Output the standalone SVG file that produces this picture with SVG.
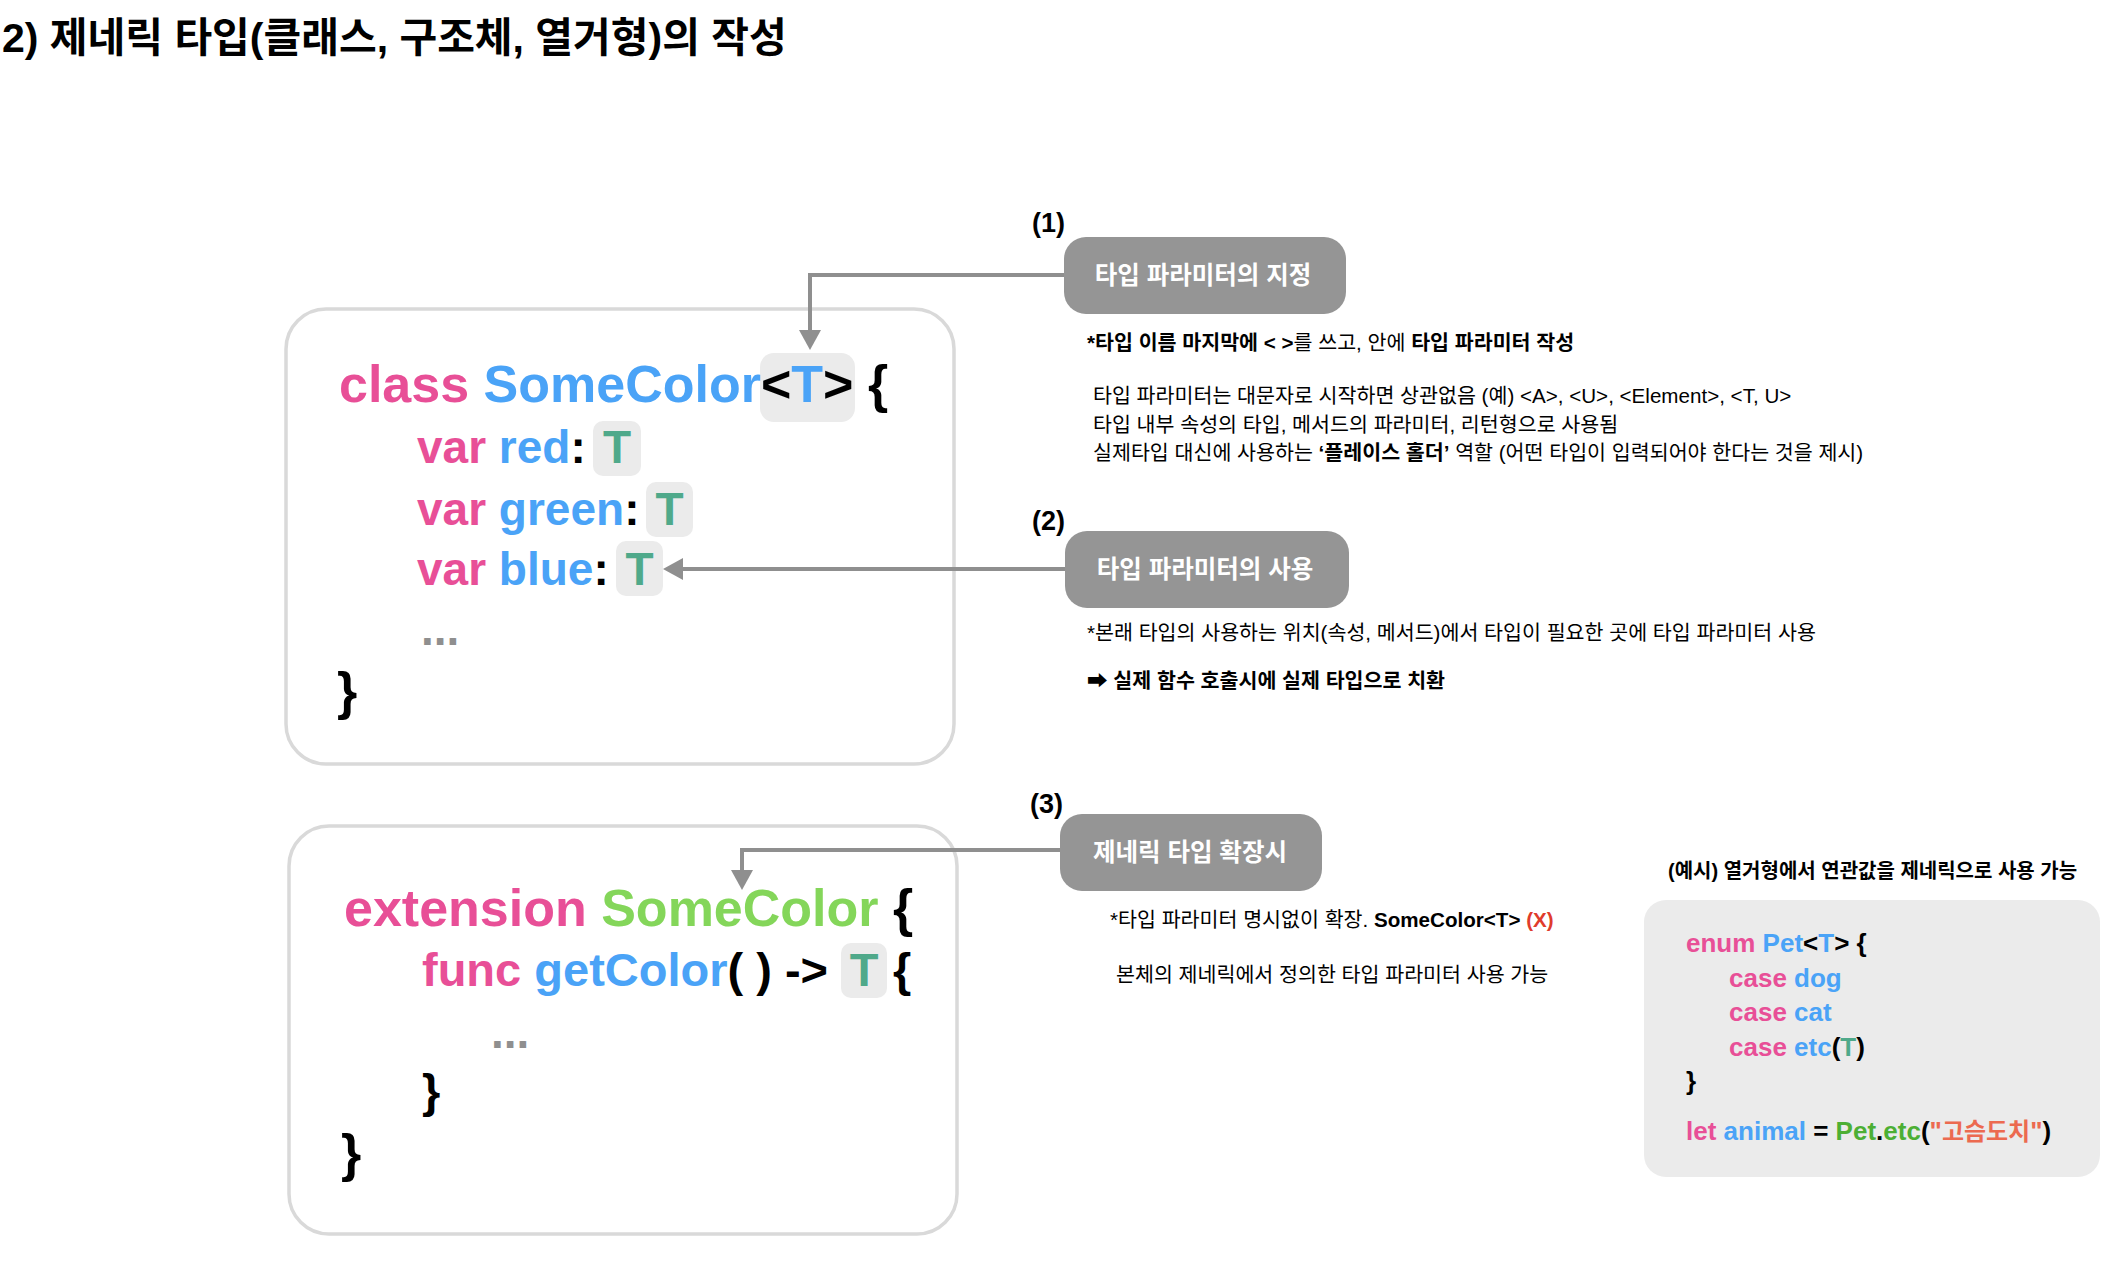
<svg xmlns="http://www.w3.org/2000/svg" width="2118" height="1272" viewBox="0 0 2118 1272">
<style>
text{font-family:"Liberation Sans","Noto Sans CJK KR","DejaVu Sans",sans-serif;}
.title{font-size:41px;font-weight:bold;fill:#000;}
.code{font-weight:bold;fill:#000;}
.pk{fill:#e84f97;}
.bl{fill:#4aa3f7;}
.tg{fill:#4fa98a;}
.gr{fill:#84d65a;}
.gd{fill:#4caf34;}
.st{fill:#ec6a50;}
.dots{fill:#8f8f8f;}
.box{fill:#fff;stroke:#d9d9d9;stroke-width:3.5;}
.hl{fill:#ebebeb;}
.lbl{fill:#959595;}
.lt{font-size:24.5px;font-weight:bold;fill:#fff;text-anchor:middle;}
.num{font-size:27px;font-weight:bold;fill:#000;}
.d{font-size:20.6px;fill:#000;}
.b{font-weight:bold;}
.red{fill:#e03c2c;font-weight:bold;}
.conn{fill:none;stroke:#8f8f8f;stroke-width:4;marker-end:url(#ah);}
</style>
<defs>
<marker id="ah" viewBox="0 0 20 22" refX="16" refY="11" markerWidth="20" markerHeight="22" markerUnits="userSpaceOnUse" orient="auto">
<path d="M0,0 L20,11 L0,22 z" fill="#8f8f8f"/>
</marker>
</defs>
<rect width="2118" height="1272" fill="#fff"/>
<text id="title" class="title" x="2" y="52">2) 제네릭 타입(클래스, 구조체, 열거형)의 작성</text>

<g id="class-box">
<rect class="box" x="286" y="309" width="668" height="455" rx="40"/>
<rect class="hl" x="760" y="353" width="95" height="69" rx="14"/>
<text class="code" x="339" y="402" font-size="52"><tspan class="pk">class</tspan> <tspan class="bl">SomeColor</tspan>&lt;<tspan class="bl">T</tspan>&gt; {</text>
<rect class="hl" x="593" y="421" width="48" height="55" rx="10"/>
<text class="code" x="417" y="463" font-size="46"><tspan class="pk">var</tspan> <tspan class="bl">red</tspan>:</text>
<text class="code tg" x="617" y="463" font-size="46" text-anchor="middle">T</text>
<rect class="hl" x="646" y="482" width="47" height="55" rx="10"/>
<text class="code" x="417" y="525" font-size="46"><tspan class="pk">var</tspan> <tspan class="bl">green</tspan>:</text>
<text class="code tg" x="669.5" y="525" font-size="46" text-anchor="middle">T</text>
<rect class="hl" x="616" y="541" width="47" height="55" rx="10"/>
<text class="code" x="417" y="585" font-size="46"><tspan class="pk">var</tspan> <tspan class="bl">blue</tspan>:</text>
<text class="code tg" x="639.5" y="585" font-size="46" text-anchor="middle">T</text>
<text class="code dots" x="421" y="645" font-size="46">...</text>
<text class="code" x="337" y="709" font-size="52">}</text>
</g>

<g id="extension-box">
<rect class="box" x="289" y="826" width="668" height="408" rx="40"/>
<text class="code" x="344" y="926" font-size="52"><tspan class="pk">extension</tspan> <tspan class="gr">SomeColor</tspan> {</text>
<rect class="hl" x="841" y="943" width="46" height="55" rx="10"/>
<text class="code" x="422" y="986" font-size="47"><tspan class="pk">func</tspan> <tspan class="bl">getColor</tspan>( ) -&gt;</text>
<text class="code tg" x="864" y="986" font-size="47" text-anchor="middle">T</text>
<text class="code" x="893" y="986" font-size="47">{</text>
<text class="code dots" x="491" y="1048" font-size="46">...</text>
<text class="code" x="422" y="1107" font-size="47">}</text>
<text class="code" x="341" y="1171" font-size="52">}</text>
</g>

<g id="label-1">
<text class="num" x="1032" y="232">(1)</text>
<rect class="lbl" x="1064" y="237" width="282" height="77" rx="22"/>
<text class="lt" x="1203" y="284">타입 파라미터의 지정</text>
</g>
<g id="desc-1">
<text class="d" x="1087" y="350"><tspan class="b">*타입 이름 마지막에 &lt; &gt;</tspan>를 쓰고, 안에 <tspan class="b">타입 파라미터 작성</tspan></text>
<text class="d" x="1093" y="403">타입 파라미터는 대문자로 시작하면 상관없음 (예) &lt;A&gt;, &lt;U&gt;, &lt;Element&gt;, &lt;T, U&gt;</text>
<text class="d" x="1093" y="432">타입 내부 속성의 타입, 메서드의 파라미터, 리턴형으로 사용됨</text>
<text class="d" x="1093" y="460">실제타입 대신에 사용하는 <tspan class="b">‘플레이스 홀더’</tspan> 역할 (어떤 타입이 입력되어야 한다는 것을 제시)</text>
</g>

<g id="label-2">
<text class="num" x="1032" y="530">(2)</text>
<rect class="lbl" x="1065" y="531" width="284" height="77" rx="22"/>
<text class="lt" x="1205" y="578">타입 파라미터의 사용</text>
</g>
<g id="desc-2">
<text class="d" x="1087" y="640">*본래 타입의 사용하는 위치(속성, 메서드)에서 타입이 필요한 곳에 타입 파라미터 사용</text>
<text class="d b" x="1087" y="688">➡ 실제 함수 호출시에 실제 타입으로 치환</text>
</g>

<g id="label-3">
<text class="num" x="1030" y="813">(3)</text>
<rect class="lbl" x="1060" y="814" width="262" height="77" rx="22"/>
<text class="lt" x="1190" y="861">제네릭 타입 확장시</text>
</g>
<g id="desc-3">
<text class="d" x="1110" y="927">*타입 파라미터 명시없이 확장. <tspan class="b">SomeColor&lt;T&gt;</tspan> <tspan class="red">(X)</tspan></text>
<text class="d" x="1116" y="982">본체의 제네릭에서 정의한 타입 파라미터 사용 가능</text>
</g>

<g id="enum-example">
<text class="b" x="1668" y="878" font-size="20">(예시) 열거형에서 연관값을 제네릭으로 사용 가능</text>
<rect class="hl" x="1644" y="900" width="456" height="277" rx="22"/>
<text class="code" x="1686" y="952" font-size="26"><tspan class="pk">enum</tspan> <tspan class="bl">Pet</tspan>&lt;<tspan class="bl">T</tspan>&gt; {</text>
<text class="code" x="1729" y="987" font-size="26"><tspan class="pk">case</tspan> <tspan class="bl">dog</tspan></text>
<text class="code" x="1729" y="1021" font-size="26"><tspan class="pk">case</tspan> <tspan class="bl">cat</tspan></text>
<text class="code" x="1729" y="1056" font-size="26"><tspan class="pk">case</tspan> <tspan class="bl">etc</tspan>(<tspan class="tg">T</tspan>)</text>
<text class="code" x="1686" y="1090" font-size="26">}</text>
<text class="code" x="1686" y="1140" font-size="26"><tspan class="pk">let</tspan> <tspan class="bl">animal</tspan> = <tspan class="gd">Pet</tspan>.<tspan class="gd">etc</tspan>(<tspan class="st">"<tspan font-size="24">고슴도치</tspan>"</tspan>)</text>
</g>

<g id="connectors">
<path class="conn" d="M1064 275 H810 V346"/>
<path class="conn" d="M1065 569 H667"/>
<path class="conn" d="M1060 850 H742 V886"/>
</g>
</svg>
